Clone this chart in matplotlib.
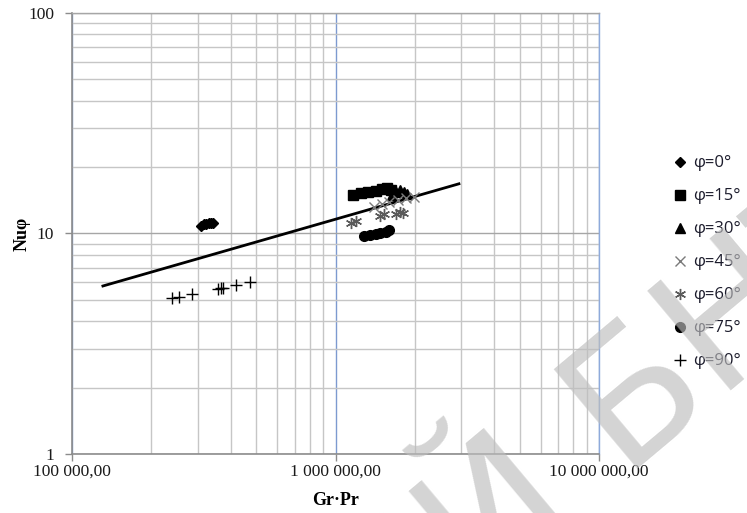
import numpy as np
import matplotlib
matplotlib.use("Agg")
import matplotlib.pyplot as plt
from matplotlib.ticker import FixedLocator, FixedFormatter, NullFormatter, LogLocator

# data (Gr*Pr, Nu_phi)
x_phi0 = [309e3, 316e3, 323e3, 331e3, 338e3, 344e3]
y_phi0 = [10.85, 11.0, 11.05, 11.1, 11.2, 11.15]

x_phi15 = [1.17e6, 1.25e6, 1.33e6, 1.42e6, 1.50e6, 1.57e6, 1.62e6]
y_phi15 = [15.0, 15.2, 15.4, 15.6, 15.9, 16.0, 15.8]

x_phi30 = [1.64e6, 1.70e6, 1.76e6, 1.82e6, 1.87e6]
y_phi30 = [14.9, 15.4, 15.7, 15.4, 15.1]

x_phi45 = [1.40e6, 1.50e6, 1.60e6, 1.72e6, 1.85e6, 1.98e6]
y_phi45 = [13.2, 13.6, 13.9, 14.2, 14.5, 14.7]

x_phi60 = [1.14e6, 1.20e6, 1.47e6, 1.53e6, 1.70e6, 1.76e6, 1.81e6]
y_phi60 = [11.2, 11.4, 12.0, 12.2, 12.3, 12.5, 12.4]

x_phi75 = [1.28e6, 1.35e6, 1.42e6, 1.48e6, 1.55e6, 1.60e6]
y_phi75 = [9.7, 9.8, 9.9, 10.0, 10.2, 10.35]

x_phi90 = [240e3, 255e3, 286e3, 359e3, 369e3, 375e3, 420e3, 475e3]
y_phi90 = [5.10, 5.15, 5.32, 5.60, 5.66, 5.68, 5.84, 6.02]

# trend line end points
x_fit = [131e3, 2.94e6]
y_fit = [5.78, 16.8]

x_ticks = [1e5, 1e6, 1e7]
x_labels = ['100 000,00', '1 000 000,00', '10 000 000,00']
y_ticks = [1, 10, 100]
y_labels = ['1', '10', '100']

fig = plt.figure(figsize=(7.47, 5.13), dpi=100)
ax = fig.add_axes([0.0964, 0.115, 0.7055, 0.8597])

ax.set_xscale('log')
ax.set_yscale('log')
ax.set_xlim(1e5, 1e7)
ax.set_ylim(1, 100)

ax.plot(x_fit, y_fit, color='black', lw=2.0, zorder=3)

ms = dict(linestyle='none', zorder=4)
ax.plot(x_phi0, y_phi0, marker='D', color='black', markersize=5.5, label='φ=0°', **ms)
ax.plot(x_phi15, y_phi15, marker='s', color='black', markersize=6.5, label='φ=15°', **ms)
ax.plot(x_phi30, y_phi30, marker='^', color='black', markersize=7, label='φ=30°', **ms)
ax.plot(x_phi45, y_phi45, marker='x', color='#7a7a7a', markersize=7, mew=1.0, label='φ=45°', **ms)
ax.plot(x_phi60, y_phi60, marker=(6, 2, 0), color='#5a5a5a', markersize=8, mew=1.0, label='φ=60°', **ms)
ax.plot(x_phi75, y_phi75, marker='o', color='black', markersize=7, label='φ=75°', **ms)
ax.plot(x_phi90, y_phi90, marker='+', color='black', markersize=8, mew=1.0, label='φ=90°', **ms)

# ticks / grid
ax.xaxis.set_major_locator(FixedLocator(x_ticks))
ax.xaxis.set_major_formatter(FixedFormatter(x_labels))
ax.yaxis.set_major_locator(FixedLocator(y_ticks))
ax.yaxis.set_major_formatter(FixedFormatter(y_labels))
ax.xaxis.set_minor_locator(LogLocator(base=10, subs=np.arange(2, 10)))
ax.yaxis.set_minor_locator(LogLocator(base=10, subs=np.arange(2, 10)))
ax.xaxis.set_minor_formatter(NullFormatter())
ax.yaxis.set_minor_formatter(NullFormatter())

ax.grid(True, which='minor', axis='both', color='#c6c6c6', lw=1.0, zorder=0)
ax.grid(True, which='major', axis='y', color='#a6a6a6', lw=1.0, zorder=0)
ax.grid(True, which='major', axis='x', color='#7d9ad0', lw=1.0, zorder=0)
ax.set_axisbelow(True)

ax.tick_params(which='minor', length=0)
ax.tick_params(which='major', direction='out', length=5, width=1.0, color='#8c8c8c',
               labelsize=12.5, labelcolor='#1a1a1a')
ax.tick_params(axis='x', which='major', pad=2)
ax.tick_params(axis='y', which='major', pad=8)
for lab in ax.get_xticklabels() + ax.get_yticklabels():
    lab.set_family('Liberation Serif')

for side in ['left', 'bottom']:
    ax.spines[side].set_color('#8c8c8c')
    ax.spines[side].set_linewidth(1.2)
ax.spines['top'].set_color('#a6a6a6')
ax.spines['top'].set_linewidth(1.0)
ax.spines['right'].set_color('#8eaadb')
ax.spines['right'].set_linewidth(1.0)

ax.set_xlabel('Gr·Pr', family='Liberation Serif', fontweight='bold', fontsize=13, labelpad=9)
ax.set_ylabel('Nuφ', family='Liberation Serif', fontweight='bold', fontsize=13)
ax.yaxis.set_label_coords(-0.078, 0.5)

leg = fig.legend(loc='upper left', bbox_to_anchor=(0.895, 0.71), frameon=False,
                 prop={'family': 'Open Sans', 'size': 12}, handlelength=0.6,
                 handletextpad=0.45, labelspacing=1.02, borderaxespad=0)
for t in leg.get_texts():
    t.set_color('#1c1c2c')

# watermark
fig.text(0.505, -0.34, 'ИЙ БНТУ', fontsize=128, color='#bdbdbd', alpha=0.65,
         rotation=40, rotation_mode='anchor', ha='left', va='baseline',
         family='DejaVu Sans', zorder=10)

fig.savefig('out.png', dpi=100)
